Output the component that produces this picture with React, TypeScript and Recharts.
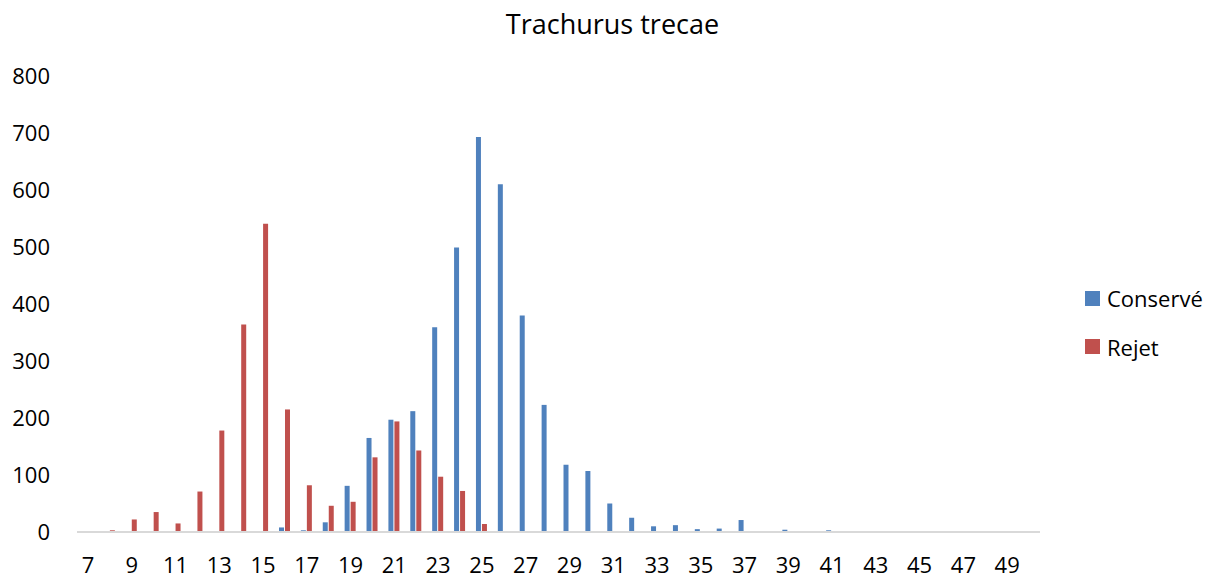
import React from "react";
import { BarChart, Bar, XAxis, YAxis } from "recharts";

// longueurs (cm)
const lengths = [
  7, 8, 9, 10, 11, 12, 13, 14, 15, 16, 17, 18, 19, 20, 21, 22, 23, 24, 25, 26, 27, 28,
  29, 30, 31, 32, 33, 34, 35, 36, 37, 38, 39, 40, 41, 42, 43, 44, 45, 46, 47, 48, 49, 50,
];

const conserve = [
  0, 0, 0, 0, 0, 0, 0, 0, 0, 8, 3, 17, 81, 165, 197, 212, 359, 499, 693, 610, 380, 223,
  118, 107, 50, 25, 10, 12, 5, 6, 21, 0, 4, 0, 3, 0, 0, 0, 0, 0, 0, 0, 0, 0,
];

const rejet = [
  0, 3, 22, 35, 15, 71, 178, 364, 541, 215, 82, 46, 53, 131, 194, 143, 97, 72, 14, 0, 0, 0,
  0, 0, 0, 0, 0, 0, 0, 0, 0, 0, 0, 0, 0, 0, 0, 0, 0, 0, 0, 0, 0, 0,
];

const yTicks = [0, 100, 200, 300, 400, 500, 600, 700, 800];

const series = [
  { name: "Conservé", color: "#4f81bd" },
  { name: "Rejet", color: "#c0504d" },
];

const data = lengths.map((l, i) => ({
  taille: l,
  "Conservé": conserve[i],
  Rejet: rejet[i],
}));

const font = "'Open Sans', sans-serif";

export default function App() {
  return (
    <div
      style={{
        position: "absolute",
        left: 0,
        top: 0,
        width: 1217,
        height: 580,
        background: "#fff",
      }}
    >
      <div
        style={{
          position: "absolute",
          left: 0,
          top: 10,
          width: 1225,
          textAlign: "center",
          fontFamily: font,
          fontSize: 27,
          lineHeight: 1,
          color: "#000",
        }}
      >
        Trachurus trecae
      </div>
      <div
        style={{
          position: "absolute",
          left: 1085,
          top: 274,
          fontFamily: font,
          fontSize: 22,
          color: "#000",
        }}
      >
        {series.map((s) => (
          <div
            key={s.name}
            style={{ display: "flex", alignItems: "center", height: 48.6 }}
          >
            <span
              style={{
                display: "inline-block",
                width: 15,
                height: 15,
                background: s.color,
                marginRight: 7,
              }}
            />
            <span>{s.name}</span>
          </div>
        ))}
      </div>
      <BarChart
        width={1217}
        height={580}
        data={data}
        margin={{ top: 76, right: 177, bottom: 8, left: 17 }}
        barSize={5}
        barGap={1}
      >
        <XAxis
          dataKey="taille"
          interval={1}
          tickLine={false}
          tickSize={0}
          tickMargin={25}
          height={40}
          axisLine={{ stroke: "#d9d9d9", strokeWidth: 2 }}
          tick={{ fill: "#000", fontSize: 22, fontFamily: font }}
        />
        <YAxis
          domain={[0, 800]}
          ticks={yTicks}
          width={60}
          axisLine={false}
          tickLine={false}
          tickSize={0}
          tickMargin={27}
          tick={{ fill: "#000", fontSize: 22, fontFamily: font }}
        />
        {series.map((s) => (
          <Bar key={s.name} dataKey={s.name} fill={s.color} isAnimationActive={false} />
        ))}
      </BarChart>
    </div>
  );
}
